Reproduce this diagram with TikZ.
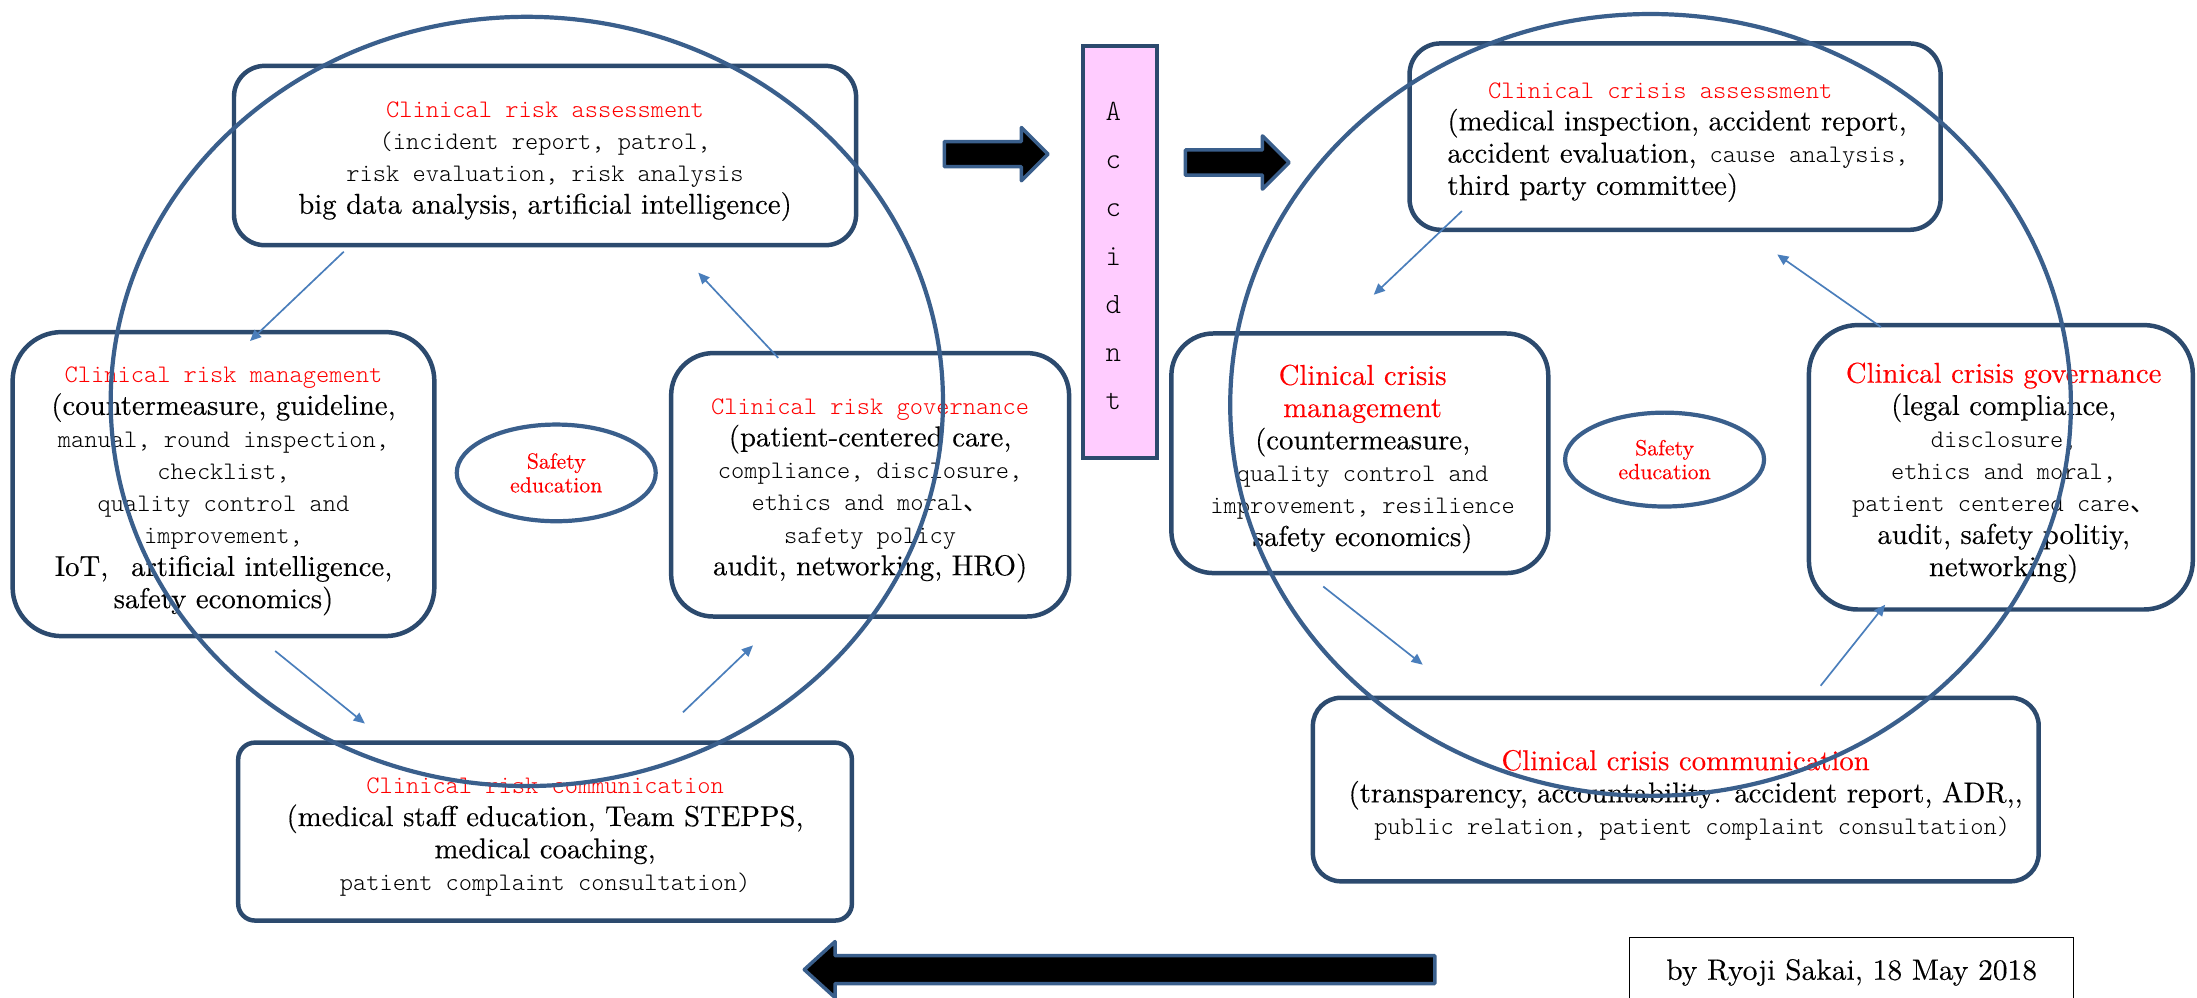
\documentclass[tikz,border=0pt]{standalone}
\usepackage{fontspec}
\newfontfamily\cjkf{Noto Sans CJK JP}
\newfontfamily\monof{lmmonolt10-regular.otf}
\newfontfamily\serf{lmroman10-regular.otf}[FakeBold=0.25]
\usetikzlibrary{arrows.meta,calc,shapes.geometric}
\definecolor{boxc}{HTML}{2C4A6E}
\definecolor{ringc}{HTML}{3A5F8C}
\definecolor{arrc}{HTML}{4A7EBB}
\definecolor{pinkc}{HTML}{FFCCFF}
\newcommand\monoT{\fontsize{18}{23}\selectfont\monof}
\newcommand\serT{\fontsize{20.5}{23}\selectfont\serf}
\newcommand\redT{\color{red}}
\begin{document}
\begin{tikzpicture}[x=1pt,y=-1pt,
  panel/.style={draw=boxc, line width=3.2pt, rounded corners=#1, inner sep=0pt},
  panel/.default=20pt,
  ptext/.style={inner sep=0pt, align=center, font=\serT},
  ring/.style={draw=ringc, line width=3pt},
  flow/.style={draw=arrc, line width=1.2pt, -{Triangle[length=8pt,width=7pt]}},
  blockarrow/.style={draw=ringc, fill=black, line width=2.5pt, line join=round},
  safety/.style={draw=ringc, line width=3pt, ellipse, inner sep=0pt, align=center, text=red, font=\fontsize{15.6}{17}\selectfont\serf},
]
\useasboundingbox (0,0) rectangle (1568,712);
\fill[white] (0,0) rectangle (1568,712);

% left cycle
\node[panel=22pt, minimum width=444pt, minimum height=128pt] (ra) at (389,111) {};
\node[ptext] (ra-t) at ($(ra.center)+(0,4)$)
 {{\monoT\redT Clinical risk assessment}\\
  {\monoT (incident report, patrol,}\\
  {\monoT risk evaluation, risk analysis}\\
  big data analysis, artificial intelligence)};
\node[panel=35pt, minimum width=301pt, minimum height=217pt] (rm) at (159.5,345.5) {};
\node[ptext] (rm-t) at ($(rm.center)+(0,5)$)
 {{\monoT\redT Clinical risk management}\\
  (countermeasure, guideline,\\
  {\monoT manual, round inspection,}\\
  {\monoT checklist,}\\
  {\monoT quality control and}\\
  {\monoT improvement,}\\
  IoT,\hspace{0.8em}artificial intelligence,\\
  safety economics)};
\node[panel=30pt, minimum width=284pt, minimum height=188pt] (rg) at (621,346) {};
\node[ptext] (rg-t) at ($(rg.center)+(0,4)$)
 {{\monoT\redT Clinical risk governance}\\
  (patient-centered care,\\
  {\monoT compliance, disclosure,}\\
  {\monoT ethics and moral{\cjkf 、}}\\
  {\monoT safety policy}\\
  audit, networking, HRO)};
\node[panel=12pt, minimum width=438pt, minimum height=127pt] (rc) at (389,593.5) {};
\node[ptext] (rc-t) at ($(rc.center)+(0,4)$)
 {{\monoT\redT Clinical risk communication}\\
  (medical staff education, Team STEPPS,\\
  medical coaching,\\
  {\monoT patient complaint consultation)}};
\node[safety, minimum width=142pt, minimum height=69pt] (se1) at (397,337.5) {Safety\\education};

% accident
\node[draw=boxc, fill=pinkc, line width=3pt, minimum width=53pt, minimum height=294pt, inner sep=0pt] (acc) at (799.5,180) {};
\foreach \l [count=\i] in {A,c,c,i,d,n,t}
  \node[anchor=base, inner sep=0pt, font=\fontsize{21}{23}\selectfont\monof] (acc\i) at (794.5,{86+(\i-1)*34.4}) {\l};

% right cycle
\node[panel=22pt, minimum width=379pt, minimum height=133pt] (ca) at (1195.5,97.5) {};
\node[ptext, align=left] (ca-t) at ($(ca.center)+(2,4)$)
 {\hspace*{29pt}{\monoT\redT Clinical crisis assessment}\\
  (medical inspection, accident report,\\
  accident evaluation,{\monoT{} cause analysis,}\\
  third party committee)};
\node[panel=30pt, minimum width=269pt, minimum height=171pt] (cm) at (970.5,323.5) {};
\node[ptext] (cm-t) at ($(cm.center)+(2,4)$)
 {{\redT Clinical crisis}\\
  {\redT management}\\
  (countermeasure,\\
  {\monoT quality control and}\\
  {\monoT improvement, resilience}\\
  safety economics)};
\node[panel=35pt, minimum width=274pt, minimum height=203pt] (cg) at (1428,333.5) {};
\node[ptext] (cg-t) at ($(cg.center)+(2,4)$)
 {{\redT Clinical crisis governance}\\
  (legal compliance,\\
  {\monoT disclosure,}\\
  {\monoT ethics and moral,}\\
  {\monoT patient centered care{\cjkf 、}}\\
  audit, safety politiy,\\
  networking)};
\node[panel=20pt, minimum width=518pt, minimum height=131pt] (cc) at (1196,563.5) {};
\node[ptext] (cc-t) at ($(cc.center)+(7,4)$)
 {{\redT Clinical crisis communication}\\
  (transparency, accountability: accident report, ADR,,\\
  {\monoT\ public relation, patient complaint consultation)}};
\node[safety, minimum width=142pt, minimum height=67pt] (se2) at (1188,328) {Safety\\education};

% big rings
\draw[ring] (376,286.5) ellipse [x radius=297pt, y radius=274.5pt];
\draw[ring] (1178,289) ellipse [x radius=300pt, y radius=279pt];

% thin flow arrows, left
\draw[flow] ($(ra.south west)+(80,3)$) -- ($(rm.north west)+(171,8)$);
\draw[flow] ($(rm.south west)+(189,9)$) -- ($(rc.north west)+(92,-12)$);
\draw[flow] ($(rc.north west)+(319,-20)$) -- ($(rg.south west)+(60,19)$);
\draw[flow] ($(rg.north west)+(78,5)$) -- ($(ra.south west)+(333,18)$);
% thin flow arrows, right
\draw[flow] ($(ca.south west)+(39,-15)$) -- ($(cm.north west)+(146,-26)$);
\draw[flow] ($(cm.south west)+(110,8)$) -- ($(cc.north west)+(80,-22)$);
\draw[flow] ($(cc.north west)+(364,-7)$) -- ($(cg.south west)+(56,-5)$);
\draw[flow] ($(cg.north west)+(53,3)$) -- ($(ca.south west)+(264,16)$);

% block arrows
\draw[blockarrow] (674,101) -- (729,101) -- (729,91) -- (748,110) -- (729,129) -- (729,119) -- (674,119) -- cycle;
\draw[blockarrow] (846,107) -- (901,107) -- (901,97) -- (920,116) -- (901,135) -- (901,125) -- (846,125) -- cycle;
\draw[blockarrow] (1024,682) -- (596,682) -- (596,672) -- (574,692) -- (596,712) -- (596,702) -- (1024,702) -- cycle;

% author
\node[draw=black, line width=1pt, minimum width=317pt, minimum height=50pt, inner sep=0pt, font=\fontsize{21}{24}\selectfont\serf] (auth) at (1321.5,694) {by Ryoji Sakai, 18 May 2018};
\end{tikzpicture}
\end{document}
